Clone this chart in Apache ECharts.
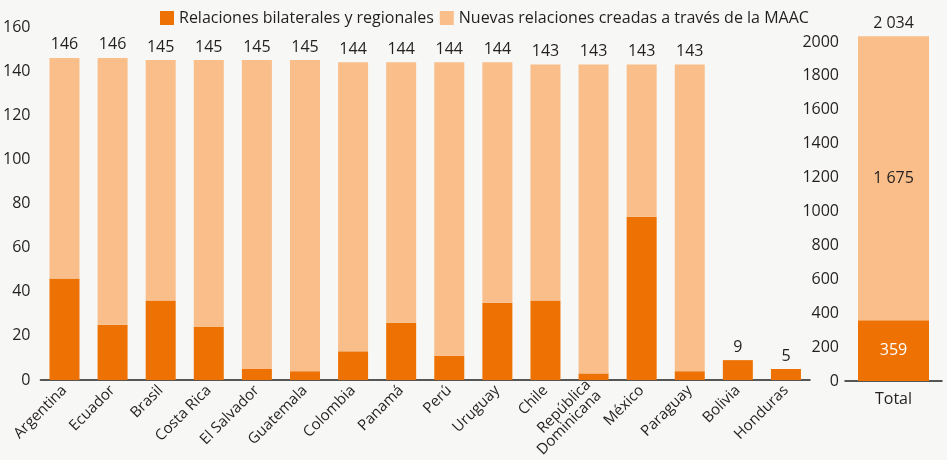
<!DOCTYPE html>
<html>
<head>
<meta charset="utf-8">
<script src="https://cdn.jsdelivr.net/npm/echarts@6/dist/echarts.min.js"></script>
<style>
  html, body { margin: 0; background: #f7f7f5; }
  #chart { width: 947px; height: 460px; }
</style>
</head>
<body>
<div id="chart"></div>
<script>
// datos por país
var paises = ['Argentina', 'Ecuador', 'Brasil', 'Costa Rica', 'El Salvador', 'Guatemala', 'Colombia', 'Panamá',
  'Perú', 'Uruguay', 'Chile', 'República\nDominicana', 'México', 'Paraguay', 'Bolivia', 'Honduras']
var bilaterales = [46, 25, 36, 24, 5, 4, 13, 26, 11, 35, 36, 3, 74, 4, 9, 5]
var nuevas = [100, 121, 109, 121, 140, 141, 131, 118, 133, 109, 107, 140, 69, 139, 0, 0]
var totales = [146, 146, 145, 145, 145, 145, 144, 144, 144, 144, 143, 143, 143, 143, 9, 5]

// panel total
var totalCat = ['Total']
var totalBilaterales = [359]
var totalNuevas = [1675]
var totalLabels = ['359', '1 675', '2 034']

var oscuro = '#ee7203'
var claro = '#f9be8a'
var texto = '#231f20'
var fuente = 'Open Sans'

var myChart = echarts.init(document.getElementById('chart'))
var option = {
  backgroundColor: '#f7f7f5',
  animation: false,
  textStyle: { fontFamily: fuente, color: texto },
  legend: {
    left: 155,
    top: 5,
    icon: 'rect',
    itemWidth: 14,
    itemHeight: 14,
    itemGap: 6,
    textStyle: { fontSize: 16, color: texto, fontFamily: fuente },
    data: ['Relaciones bilaterales y regionales', 'Nuevas relaciones creadas a través de la MAAC']
  },
  grid: [
    { left: 40, top: 27, width: 770, bottom: 80 },
    { left: 845, top: 42, right: 5, bottom: 79 }
  ],
  xAxis: [{
    gridIndex: 0,
    type: 'category',
    data: paises,
    axisLine: { lineStyle: { color: '#222', width: 1.5 } },
    axisTick: { show: false },
    axisLabel: { interval: 0, rotate: 45, fontSize: 15, color: texto, margin: 8, fontFamily: fuente }
  }, {
    gridIndex: 1,
    type: 'category',
    data: totalCat,
    axisLine: { lineStyle: { color: '#222', width: 1.5 } },
    axisTick: { show: false },
    axisLabel: { fontSize: 16, color: texto, margin: 10, fontFamily: fuente }
  }],
  yAxis: [{
    gridIndex: 0,
    type: 'value',
    min: 0,
    max: 160,
    interval: 20,
    splitLine: { show: false },
    axisLine: { show: false },
    axisLabel: { fontSize: 16, color: texto, margin: 10, fontFamily: fuente }
  }, {
    gridIndex: 1,
    type: 'value',
    min: 0,
    max: 2000,
    interval: 200,
    splitLine: { show: false },
    axisLine: { show: false },
    axisLabel: {
      fontSize: 16,
      color: texto,
      margin: 6,
      fontFamily: fuente,
      formatter: function (v) { return String(v) }
    }
  }],
  series: [{
    name: 'Relaciones bilaterales y regionales',
    type: 'bar',
    stack: 'a',
    xAxisIndex: 0,
    yAxisIndex: 0,
    barWidth: 30,
    itemStyle: { color: oscuro },
    data: bilaterales
  }, {
    name: 'Nuevas relaciones creadas a través de la MAAC',
    type: 'bar',
    stack: 'a',
    xAxisIndex: 0,
    yAxisIndex: 0,
    barWidth: 30,
    itemStyle: { color: claro },
    label: {
      show: true,
      position: 'top',
      distance: 5,
      fontSize: 16,
      color: texto,
      fontFamily: fuente,
      formatter: function (p) { return totales[p.dataIndex] }
    },
    data: nuevas
  }, {
    name: 'Relaciones bilaterales y regionales',
    type: 'bar',
    stack: 'b',
    xAxisIndex: 1,
    yAxisIndex: 1,
    barWidth: 71,
    itemStyle: { color: oscuro },
    label: { show: true, position: 'inside', fontSize: 16, color: '#fff', fontFamily: fuente, formatter: totalLabels[0] },
    data: totalBilaterales
  }, {
    name: 'Nuevas relaciones creadas a través de la MAAC',
    type: 'bar',
    stack: 'b',
    xAxisIndex: 1,
    yAxisIndex: 1,
    barWidth: 71,
    clip: false,
    itemStyle: { color: claro },
    label: { show: true, position: 'inside', fontSize: 16, color: texto, fontFamily: fuente, formatter: totalLabels[1] },
    data: totalNuevas
  }, {
    // etiqueta del total encima de la barra
    type: 'bar',
    stack: 'b',
    xAxisIndex: 1,
    yAxisIndex: 1,
    barWidth: 71,
    clip: false,
    silent: true,
    itemStyle: { color: 'transparent' },
    label: { show: true, position: 'top', distance: 5, fontSize: 16, color: texto, fontFamily: fuente, formatter: totalLabels[2] },
    data: [0]
  }]
}
myChart.setOption(option)
</script>
</body>
</html>
